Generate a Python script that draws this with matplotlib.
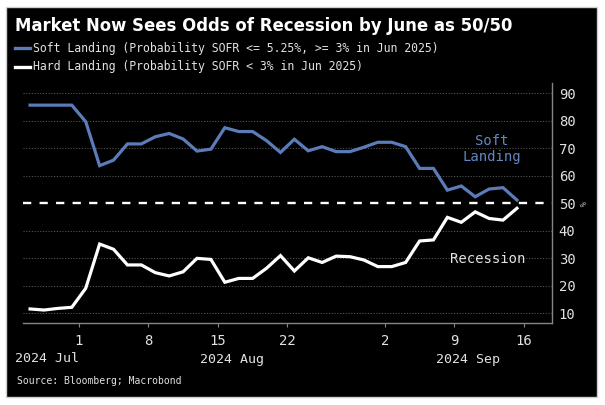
import numpy as np
import matplotlib
matplotlib.use("Agg")
import matplotlib.pyplot as plt
from matplotlib.patches import Rectangle
from matplotlib.lines import Line2D
import matplotlib.transforms as mtransforms

# ---- data ----
dates = ["2024-07-26", "2024-07-29", "2024-07-30", "2024-07-31", "2024-08-01",
         "2024-08-02", "2024-08-05", "2024-08-06", "2024-08-07", "2024-08-08",
         "2024-08-09", "2024-08-12", "2024-08-13", "2024-08-14", "2024-08-15",
         "2024-08-16", "2024-08-19", "2024-08-20", "2024-08-21", "2024-08-22",
         "2024-08-23", "2024-08-26", "2024-08-27", "2024-08-28", "2024-08-29",
         "2024-08-30", "2024-09-02", "2024-09-03", "2024-09-04", "2024-09-05",
         "2024-09-06", "2024-09-09", "2024-09-10", "2024-09-11", "2024-09-12",
         "2024-09-13"]
soft_landing = [85.7, 85.7, 85.7, 85.7, 79.7, 63.7, 65.7, 71.6, 71.6, 74.2,
                75.4, 73.4, 69.0, 69.7, 77.5, 76.1, 76.1, 72.8, 68.5, 73.3,
                69.1, 70.6, 68.8, 68.8, 70.4, 72.2, 72.2, 70.6, 62.7, 62.7,
                54.8, 56.3, 52.4, 55.2, 55.7, 51.2]
hard_landing = [11.6, 11.2, 11.8, 12.2, 19.1, 35.2, 33.3, 27.6, 27.6, 24.8,
                23.6, 25.1, 30.0, 29.6, 21.3, 22.7, 22.7, 26.4, 31.0, 25.4,
                30.2, 28.5, 30.8, 30.6, 29.4, 27.0, 27.0, 28.5, 36.3, 36.7,
                44.9, 43.1, 46.9, 44.5, 43.9, 48.2]
tick_dates = ["2024-08-01", "2024-08-08", "2024-08-15", "2024-08-22",
              "2024-09-02", "2024-09-09", "2024-09-16"]
tick_labels = ["1", "8", "15", "22", "2", "9", "16"]
month_labels = ["2024 Jul", "2024 Aug", "2024 Sep"]
y_ticks = [10, 20, 30, 40, 50, 60, 70, 80, 90]

title = "Market Now Sees Odds of Recession by June as 50/50"
legend_soft = "Soft Landing (Probability SOFR <= 5.25%, >= 3% in Jun 2025)"
legend_hard = "Hard Landing (Probability SOFR < 3% in Jun 2025)"
source = "Source: Bloomberg; Macrobond"

# ---- style ----
BLUE = "#5b7cb8"
LBLUE = "#6685bf"
TXT = "#e2e2e2"
MONO = "DejaVu Sans Mono"
W, H = 605, 405

start = dates[0]
x = np.busday_count(start, dates)
xt = np.busday_count(start, tick_dates) - 0.5

fig = plt.figure(figsize=(W / 100, H / 100), dpi=100, facecolor="white")
fig.patches.append(Rectangle((6 / W, 1 - 397 / H), 591 / W, 390 / H,
                             transform=fig.transFigure, facecolor="black",
                             edgecolor="#cfcfcf", lw=1, zorder=-5))

ax = fig.add_axes([22.7 / W, 1 - 322.7 / H, (551.7 - 22.7) / W, (322.7 - 83) / H])
ax.set_zorder(2)
ax.set_facecolor("black")
ax.set_xlim(-0.53, 37.5)
ax.set_ylim(6.6, 93.75)

for yv in y_ticks:
    if yv != 50:
        ax.axhline(yv, color="#555555", lw=0.8, ls=(0, (1, 1.5)), zorder=1)
ax.axhline(50, color="white", lw=1.7, ls=(0, (3.5, 3.5)), zorder=2)

ax.plot(x, soft_landing, color=BLUE, lw=2.3, solid_joinstyle="miter", zorder=3)
ax.plot(x, hard_landing, color="white", lw=2.3, solid_joinstyle="miter", zorder=3)

for s in ["left", "top"]:
    ax.spines[s].set_visible(False)
for s in ["bottom", "right"]:
    ax.spines[s].set_color("#858585")
    ax.spines[s].set_linewidth(1.0)

ax.yaxis.tick_right()
ax.set_yticks(y_ticks)
ax.set_yticklabels([str(v) for v in y_ticks], family=MONO, fontsize=10, color=TXT)
ax.tick_params(axis="y", length=0, pad=5)
ax.set_xticks(xt)
ax.set_xticklabels(tick_labels, family=MONO, fontsize=10, color=TXT)
ax.tick_params(axis="x", length=3, color="#858585", pad=5)

# month labels
blend = mtransforms.blended_transform_factory(ax.transData, fig.transFigure)
ym = 1 - 359 / H
fig.text(15 / W, ym, month_labels[0], family=MONO, fontsize=9.5, color=TXT,
         ha="left", va="center")
ax.text((xt[0] + xt[4]) / 2, ym, month_labels[1], transform=blend, family=MONO,
        fontsize=9.5, color=TXT, ha="center", va="center", clip_on=False)
ax.text((xt[4] + ax.get_xlim()[1]) / 2, ym, month_labels[2], transform=blend,
        family=MONO, fontsize=9.5, color=TXT, ha="center", va="center", clip_on=False)

# series labels
ax.text(33.2, 69.7, "Soft\nLanding", family=MONO, fontsize=10, color=LBLUE,
        ha="center", va="center", linespacing=1.2)
ax.text(32.9, 29.7, "Recession", family=MONO, fontsize=10, color=TXT,
        ha="center", va="center")

# percent marker
fig.text(581.5 / W, 1 - 204 / H, "%", family=MONO, fontsize=6.5, color="#a0a0a0",
         rotation=270, ha="center", va="center")

# title, legend, source
fig.text(15 / W, 1 - 26 / H, title, fontsize=11.9, weight="bold", color="white",
         family="DejaVu Sans", ha="left", va="center")
for yy, col, lab in [(48.3, BLUE, legend_soft), (66.7, "white", legend_hard)]:
    fig.lines.append(Line2D([15 / W, 30 / W], [1 - yy / H, 1 - yy / H],
                            transform=fig.transFigure, color=col, lw=2.4))
    fig.text(33.3 / W, 1 - yy / H, lab, family=MONO, fontsize=8.3, color=TXT,
             ha="left", va="center")
fig.text(17.3 / W, 1 - 381 / H, source, family=MONO, fontsize=7, color=TXT,
         ha="left", va="center")

fig.savefig("out.png", dpi=100, facecolor="white")
